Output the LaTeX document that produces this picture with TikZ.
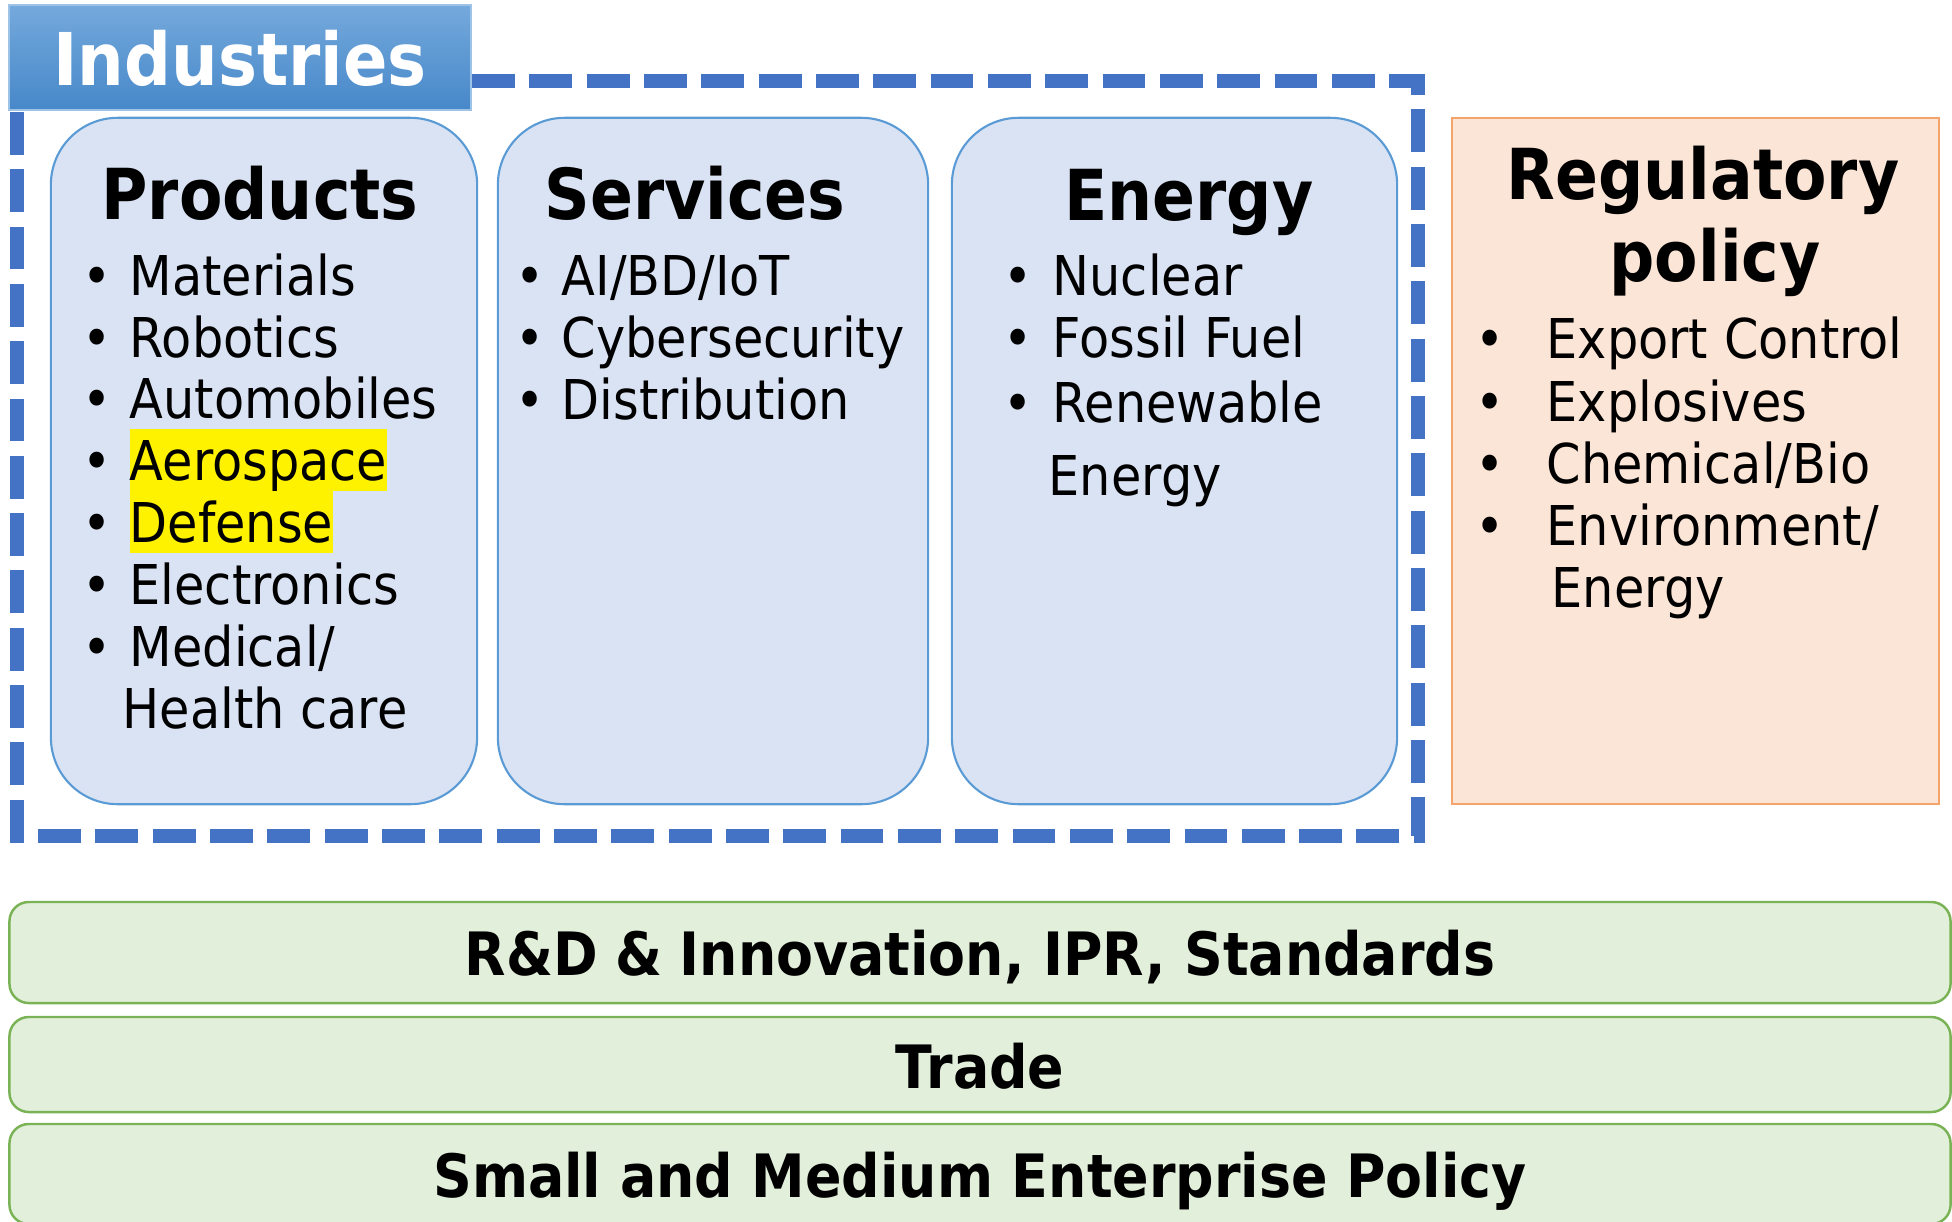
\documentclass[tikz,border=0pt]{standalone}
\usepackage{fontspec}
\setmainfont{DejaVu Sans}[FakeStretch=0.9]
\definecolor{boxblue}{HTML}{DAE3F3}
\definecolor{edgeblue}{HTML}{5B9BD5}
\definecolor{dashblue}{HTML}{4472C4}
\definecolor{indtop}{HTML}{74A9DC}
\definecolor{indbot}{HTML}{4788C9}
\definecolor{boxorange}{HTML}{FBE5D6}
\definecolor{edgeorange}{HTML}{F4A46A}
\definecolor{boxgreen}{HTML}{E2EFDA}
\definecolor{edgegreen}{HTML}{7AB356}
\newcommand{\hdfont}{\fontsize{20}{24}\selectfont\bfseries}
\newcommand{\itfont}{\fontsize{15.6}{18}\selectfont}
\newcommand{\barfont}{\fontsize{17}{20}\selectfont\bfseries}
\newcommand{\bul}[1]{\llap{•\hspace{#1}}}
\tikzset{
  panel/.style={draw=edgeblue, fill=boxblue, line width=0.6pt, rounded corners=19pt,
    minimum width=#1, minimum height=6.86cm, inner sep=0pt},
  regbox/.style={draw=edgeorange, fill=boxorange, line width=0.7pt,
    minimum width=4.87cm, minimum height=6.86cm, inner sep=0pt},
  bar/.style={draw=edgegreen, fill=boxgreen, line width=0.7pt, rounded corners=5.5pt,
    minimum width=19.4cm, minimum height=#1, inner sep=0pt},
  head/.style={anchor=base, inner sep=0pt, font=\hdfont},
  item/.style={anchor=base west, inner sep=0pt, font=\itfont},
  hl/.style={fill=yellow, text height=14.5pt, text depth=3.1pt},
  bartext/.style={anchor=base, inner sep=0pt, font=\barfont}
}
\begin{document}
\begin{tikzpicture}[x=0.01cm, y=-0.01cm]
\useasboundingbox (0,0) rectangle (1952,1221);

% industries frame
\draw[dashblue, line width=4pt, dash pattern=on 12.2pt off 4.1pt]
  (472,81) -- (1418,81) -- (1418,836) -- (17,836) -- (17,110);
\node[draw=edgeblue!60, line width=0.4pt, top color=indtop, bottom color=indbot,
  minimum width=4.62cm, minimum height=1.05cm, inner sep=0pt] (ind) at (240,57.5){};
\node[anchor=base, inner sep=0pt, text=white, font=\fontsize{20.7}{24}\selectfont\bfseries] (indtext) at (240,85){Industries};

% products
\node[panel=4.26cm] (prod) at (264,461){};
\node[head] (prodhead) at (260,219){Products};
\node[item] (p1) at (129,295){\bul{5pt}Materials};
\node[item] (p2) at (129,357){\bul{5pt}Robotics};
\node[item] (p3) at (129,418){\bul{5pt}Automobiles};
\node[item, hl] (p4) at (129,480){\bul{5pt}Aerospace};
\node[item, hl] (p5) at (129,542){\bul{5pt}Defense};
\node[item] (p6) at (129,604){\bul{5pt}Electronics};
\node[item] (p7) at (129,666){\bul{5pt}Medical/};
\node[item] (p8) at (122,728){Health care};

% services
\node[panel=4.30cm] (serv) at (713,461){};
\node[head] (servhead) at (695,219){Services};
\node[item] (s1) at (561,295){\bul{5pt}AI/BD/IoT};
\node[item] (s2) at (561,357){\bul{5pt}Cybersecurity};
\node[item] (s3) at (561,419){\bul{5pt}Distribution};

% energy
\node[panel=4.45cm] (ener) at (1174.5,461){};
\node[head] (enerhead) at (1189,220){Energy};
\node[item] (e1) at (1052,295){\bul{5.8pt}Nuclear};
\node[item] (e2) at (1052,357){\bul{5.8pt}Fossil Fuel};
\node[item] (e3) at (1052,422){\bul{5.8pt}Renewable};
\node[item] (e4) at (1048,495){Energy};

% regulatory policy
\node[regbox] (regu) at (1695.5,461){};
\node[head] (reguhead) at (1703,199){Regulatory};
\node[head] (reguhead2) at (1715,281){policy};
\node[item] (r1) at (1546,358){\bul{12pt}Export Control};
\node[item] (r2) at (1546,421){\bul{12pt}Explosives};
\node[item] (r3) at (1546,483){\bul{12pt}Chemical/Bio};
\node[item] (r4) at (1546,545){\bul{12pt}Environment/};
\node[item] (r5) at (1551,607){Energy};

% cross-cutting policies
\node[bar=1.01cm] (rd) at (980,952.5){};
\node[bartext] (rdtext) at (980,975){R\&D\hspace{5pt}\&\hspace{5pt}Innovation, IPR, Standards};
\node[bar=0.95cm] (trade) at (980,1064.5){};
\node[bartext] (tradetext) at (980,1088){Trade};
\node[bar=1.00cm] (sme) at (980,1174){};
\node[bartext] (smetext) at (980,1197){Small and Medium Enterprise Policy};

\end{tikzpicture}
\end{document}
